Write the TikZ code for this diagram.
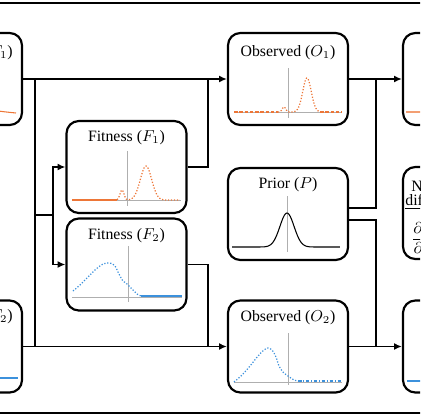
\documentclass[tikz,border=0pt]{standalone}
\usepackage{fontspec}
\setmainfont{Liberation Serif}
\usetikzlibrary{arrows.meta}
\definecolor{curveorange}{RGB}{237,118,55}
\definecolor{curveblue}{RGB}{60,145,220}
\definecolor{axisgray}{RGB}{175,175,175}
\begin{document}
\begin{tikzpicture}[x=0.02cm,y=-0.02cm,
  panel/.style={draw,line width=1.25pt,rounded corners=7pt,minimum width=2.4cm,minimum height=1.84cm,inner sep=0pt},
  title/.style={font=\fontsize{9}{11}\selectfont,inner sep=0pt},
  link/.style={line width=1.1pt},
  arrowlink/.style={link,-{Latex[length=4.5pt,width=4pt]}},
  axisline/.style={axisgray,line width=0.4pt},
  ocurve/.style={curveorange,line width=0.7pt,densely dotted},
  bcurve/.style={curveblue,line width=0.7pt,densely dotted},
  declare function={g(\t,\m,\s)=exp(-min(((\t-\m)/\s)^2,12));}
]
\useasboundingbox (0,0) rectangle (420,420);
\clip (0,0) rectangle (420,420);

% outer frame lines
\draw[line width=1.1pt] (-10,3) -- (430,3);
\draw[line width=1.1pt] (-10,413) -- (430,413);

% panels
\node[panel] (L1) at (-38,79) {};
\node[title,anchor=east] (L1t) at (13,53) {Target ($T_1$)};
\node[panel] (L2) at (-38,346.5) {};
\node[title,anchor=east] (L2t) at (13,317) {Target ($T_2$)};
\node[panel] (F1) at (126.5,167) {};
\node[title] (F1t) at (126.5,138) {Fitness ($F_1$)};
\node[panel] (F2) at (126.5,264.5) {};
\node[title] (F2t) at (126.5,236) {Fitness ($F_2$)};
\node[panel] (O1) at (288,79) {};
\node[title] (O1t) at (288,53) {Observed ($O_1$)};
\node[panel] (P) at (288,214) {};
\node[title] (Pt) at (288,185) {Prior ($P$)};
\node[panel] (O2) at (288,346.5) {};
\node[title] (O2t) at (288,318) {Observed ($O_2$)};
\node[panel] (R1) at (463,79) {};
\node[panel] (R2) at (463,213) {};
\node[panel] (R3) at (463,346.5) {};
\node[title,anchor=west] (R2a) at (411,186) {Normalized};
\node[title,anchor=west] (R2b) at (405,202) {\underline{difference}};
\node[title,anchor=west] (R2c) at (411,238) {$\displaystyle\frac{\partial O}{\partial F}$};

% junctions
\coordinate (jA) at (35,79);
\coordinate (jB) at (35,346.5);
\coordinate (jC) at (35,215);
\coordinate (jD) at (53,215);
\coordinate (jE) at (208,79);
\coordinate (jF) at (208,346.5);
\coordinate (jG) at (376,79);
\coordinate (jH) at (376,346.5);

% connectors
\draw[arrowlink] (L1) -- (O1);
\draw[arrowlink] (L2) -- (O2);
\draw[link] (jA) -- (jB);
\draw[link] (jC) -- (jD);
\draw[arrowlink] (jD) |- (F1);
\draw[arrowlink] (jD) |- (F2);
\draw[link] (F1) -| (jE);
\draw[link] (F2) -| (jF);
\draw[arrowlink] (O1) -- (R1);
\draw[arrowlink] (O2) -- (R3);
\draw[link] ([yshift=0.12cm]P.east) -| (jG);
\draw[link] ([yshift=-0.12cm]P.east) -| (jH);

% F1 plot
\draw[axisline] (72,200) -- (181,200);
\draw[axisline] (127,151) -- (127,206);
\draw[curveorange,line width=0.6pt] (72,200) -- (117,200);
\draw[ocurve] plot[domain=117:180,samples=90] (\x,{200-10*g(\x,122,2.8)-34*g(\x,146,8)});

% O1 plot
\draw[axisline] (234,112) -- (342,112);
\draw[axisline] (288,68) -- (288,118);
\draw[curveorange,line width=0.6pt,dash pattern=on 2pt off 1pt] (234,112) -- (278,112);
\draw[ocurve] plot[domain=278:320,samples=80] (\x,{112-5*g(\x,284,2.5)-34*g(\x,307,6)});
\draw[curveorange,line width=0.6pt,dash pattern=on 2pt off 1pt] (320,112) -- (342,112);

% Prior plot
\draw[axisline] (287,196) -- (287,252);
\draw[black,line width=0.6pt] plot[domain=232:340,samples=90] (\x,{247-34*g(\x,287,10)});

% F2 plot
\draw[axisline] (72,297) -- (182,297);
\draw[axisline] (128,246) -- (128,302);
\draw[bcurve] plot[smooth] coordinates {(73,291) (80,285) (87,278) (95,270) (103,264) (110,263) (115,266) (119,274) (123,281) (127,284) (132,289) (137,294) (141,296)};
\draw[curveblue,line width=0.6pt] (141,296) -- (182,296);

% O2 plot
\draw[axisline] (234,382) -- (342,382);
\draw[axisline] (288,333) -- (288,385);
\draw[bcurve] plot[smooth] coordinates {(234,382) (242,375) (250,366) (258,356) (264,350) (268,348) (272,350) (276,357) (279,366) (283,372) (288,376) (294,380) (298,381)};
\draw[curveblue,line width=0.6pt,dash pattern=on 2pt off 1pt on 0.5pt off 1pt] (298,381) -- (342,381);

% partial curves in clipped side panels
\draw[curveorange,line width=0.6pt] (-10,110) .. controls (6,112) .. (16,113);
\draw[curveorange!70,line width=0.6pt] (406,112) -- (430,112);
\draw[curveblue,line width=0.6pt] (-10,378) -- (18,378);
\draw[curveblue,line width=0.6pt] (407,381) -- (430,381);
\end{tikzpicture}
\end{document}
